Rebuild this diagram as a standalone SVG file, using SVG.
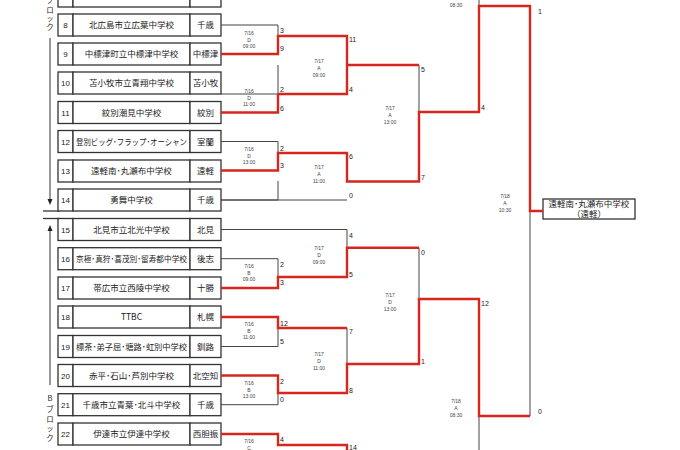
<svg xmlns="http://www.w3.org/2000/svg" width="680" height="450" viewBox="0 0 680 450">
<style>
.b{fill:#fff;stroke:#333;stroke-width:1.3}
.t{font-family:"Noto Sans CJK JP","Liberation Sans",sans-serif;font-size:8.5px;fill:#222;text-anchor:middle}
.n{font-family:"Liberation Sans",sans-serif;font-size:8px;fill:#222;text-anchor:middle}
.s{font-family:"Liberation Sans",sans-serif;font-size:7px;fill:#222}
.m{font-family:"Liberation Sans",sans-serif;font-size:5px;fill:#444;text-anchor:middle}
.k{fill:none;stroke:#444;stroke-width:1}
.r{fill:none;stroke:#d7261e;stroke-width:2.4}
.v{font-family:"Noto Sans CJK JP",sans-serif;font-size:7.5px;fill:#222;text-anchor:middle}
</style>
<rect width="680" height="450" fill="#fff"/>
<g id="side">
<text class="v" x="50" y="3">ブ</text><text class="v" x="50" y="13">ロ</text><text class="v" x="50" y="21">ッ</text><text class="v" x="50" y="30">ク</text>
<line x1="50" y1="38" x2="50" y2="200" stroke="#333"/><path d="M47.5,199 L52.5,199 L50,205 Z" fill="#222"/>
<line x1="43" y1="211" x2="60" y2="211" stroke="#333" stroke-width="1.3"/>
<line x1="43" y1="218.5" x2="60" y2="218.5" stroke="#333" stroke-width="1.3"/>
<line x1="50" y1="230" x2="50" y2="385" stroke="#333"/><path d="M47.5,231 L52.5,231 L50,225 Z" fill="#222"/>
<text class="v" x="50" y="401">B</text><text class="v" x="50" y="412">ブ</text><text class="v" x="50" y="422">ロ</text><text class="v" x="50" y="431">ッ</text><text class="v" x="50" y="441">ク</text>
</g>
<g id="teams">
<g id="r7"><rect class="b" x="58" y="-15" width="15" height="22"/><rect class="b" x="73" y="-15" width="117" height="22"/><rect class="b" x="190" y="-15" width="31" height="22"/></g>
<g id="r8"><rect class="b" x="58" y="14" width="15" height="22"/><rect class="b" x="73" y="14" width="117" height="22"/><rect class="b" x="190" y="14" width="31" height="22"/><text class="n" x="65.5" y="28">8</text><text class="t" x="131.5" y="28">北広島市立広葉中学校</text><text class="t" x="205.5" y="28">千歳</text></g>
<g id="r9"><rect class="b" x="58" y="43" width="15" height="22"/><rect class="b" x="73" y="43" width="117" height="22"/><rect class="b" x="190" y="43" width="31" height="22"/><text class="n" x="65.5" y="57">9</text><text class="t" x="131.5" y="57">中標津町立中標津中学校</text><text class="t" x="205.5" y="57">中標津</text></g>
<g id="r10"><rect class="b" x="58" y="72" width="15" height="22"/><rect class="b" x="73" y="72" width="117" height="22"/><rect class="b" x="190" y="72" width="31" height="22"/><text class="n" x="65.5" y="86">10</text><text class="t" x="131.5" y="86">苫小牧市立青翔中学校</text><text class="t" x="205.5" y="86">苫小牧</text></g>
<g id="r11"><rect class="b" x="58" y="101.5" width="15" height="22"/><rect class="b" x="73" y="101.5" width="117" height="22"/><rect class="b" x="190" y="101.5" width="31" height="22"/><text class="n" x="65.5" y="115.5">11</text><text class="t" x="131.5" y="115.5">紋別潮見中学校</text><text class="t" x="205.5" y="115.5">紋別</text></g>
<g id="r12"><rect class="b" x="58" y="130.5" width="15" height="22"/><rect class="b" x="73" y="130.5" width="117" height="22"/><rect class="b" x="190" y="130.5" width="31" height="22"/><text class="n" x="65.5" y="144.5">12</text><text class="t" x="131.5" y="144.5" textLength="111" lengthAdjust="spacingAndGlyphs">登別ビッグ･フラップ･オーシャン</text><text class="t" x="205.5" y="144.5">室蘭</text></g>
<g id="r13"><rect class="b" x="58" y="160" width="15" height="22"/><rect class="b" x="73" y="160" width="117" height="22"/><rect class="b" x="190" y="160" width="31" height="22"/><text class="n" x="65.5" y="174">13</text><text class="t" x="131.5" y="174">遠軽南･丸瀬布中学校</text><text class="t" x="205.5" y="174">遠軽</text></g>
<g id="r14"><rect class="b" x="58" y="189" width="15" height="22"/><rect class="b" x="73" y="189" width="117" height="22"/><rect class="b" x="190" y="189" width="31" height="22"/><text class="n" x="65.5" y="203">14</text><text class="t" x="131.5" y="203">勇舞中学校</text><text class="t" x="205.5" y="203">千歳</text></g>
<g id="r15"><rect class="b" x="58" y="218.5" width="15" height="22"/><rect class="b" x="73" y="218.5" width="117" height="22"/><rect class="b" x="190" y="218.5" width="31" height="22"/><text class="n" x="65.5" y="232.5">15</text><text class="t" x="131.5" y="232.5">北見市立北光中学校</text><text class="t" x="205.5" y="232.5">北見</text></g>
<g id="r16"><rect class="b" x="58" y="247.7" width="15" height="22"/><rect class="b" x="73" y="247.7" width="117" height="22"/><rect class="b" x="190" y="247.7" width="31" height="22"/><text class="n" x="65.5" y="261.7">16</text><text class="t" x="131.5" y="261.7" textLength="111" lengthAdjust="spacingAndGlyphs">京極･真狩･喜茂別･留寿都中学校</text><text class="t" x="205.5" y="261.7">後志</text></g>
<g id="r17"><rect class="b" x="58" y="277" width="15" height="22"/><rect class="b" x="73" y="277" width="117" height="22"/><rect class="b" x="190" y="277" width="31" height="22"/><text class="n" x="65.5" y="291">17</text><text class="t" x="131.5" y="291">帯広市立西陵中学校</text><text class="t" x="205.5" y="291">十勝</text></g>
<g id="r18"><rect class="b" x="58" y="306" width="15" height="22"/><rect class="b" x="73" y="306" width="117" height="22"/><rect class="b" x="190" y="306" width="31" height="22"/><text class="n" x="65.5" y="320">18</text><text class="t" x="131.5" y="320">TTBC</text><text class="t" x="205.5" y="320">札幌</text></g>
<g id="r19"><rect class="b" x="58" y="335.5" width="15" height="22"/><rect class="b" x="73" y="335.5" width="117" height="22"/><rect class="b" x="190" y="335.5" width="31" height="22"/><text class="n" x="65.5" y="349.5">19</text><text class="t" x="131.5" y="349.5" textLength="111" lengthAdjust="spacingAndGlyphs">標茶･弟子屈･塘路･虹別中学校</text><text class="t" x="205.5" y="349.5">釧路</text></g>
<g id="r20"><rect class="b" x="58" y="364.5" width="15" height="22"/><rect class="b" x="73" y="364.5" width="117" height="22"/><rect class="b" x="190" y="364.5" width="31" height="22"/><text class="n" x="65.5" y="378.5">20</text><text class="t" x="131.5" y="378.5">赤平･石山･芦別中学校</text><text class="t" x="205.5" y="378.5">北空知</text></g>
<g id="r21"><rect class="b" x="58" y="393.7" width="15" height="22"/><rect class="b" x="73" y="393.7" width="117" height="22"/><rect class="b" x="190" y="393.7" width="31" height="22"/><text class="n" x="65.5" y="407.7">21</text><text class="t" x="131.5" y="407.7">千歳市立青葉･北斗中学校</text><text class="t" x="205.5" y="407.7">千歳</text></g>
<g id="r22"><rect class="b" x="58" y="423" width="15" height="22"/><rect class="b" x="73" y="423" width="117" height="22"/><rect class="b" x="190" y="423" width="31" height="22"/><text class="n" x="65.5" y="437">22</text><text class="t" x="131.5" y="437">伊達市立伊達中学校</text><text class="t" x="205.5" y="437">西胆振</text></g>
</g>
<g id="winner"><rect class="b" x="543" y="199" width="92" height="20"/><text class="t" x="589" y="207" font-size="8">遠軽南･丸瀬布中学校</text><text class="t" x="589" y="216.5" font-size="8">（遠軽）</text></g>
<g id="connectors">
<path class="k" d="M221,25 H278 V36 M278,65 V94 H221 M221,141.5 H278 V153 M278,181 V200 H221 M221,200 H347 M347,65 V94 M419,65 V112 M479,6 V0 M530,211 V416"/>
<path class="k" d="M221,229.5 H347 V247.7 M221,258.7 H278 V277 M278,328 V346.5 H221 M221,375.5 H278 V393 M278,393 V404.7 H221 M347,328 V364 M419,247.7 V299 M479,416 V450"/>
<path class="r" d="M221,54 H278 V36 H347 V65 H419 M278,94 H347 V65 M221,112.5 H278 V94 M221,170.5 H278 V153 H347 V181.5 H419 V112 H479 V6 H530 V211 H543"/>
<path class="r" d="M221,288 H278 V277 H347 V247.7 H419 M221,317 H278 V328 H347 M221,375.5 H278 V393 H347 V364 H419 V299 H479 V416 H530 M221,434 H278 V445 H347 V450"/>
</g>
<g id="scores">
<text class="s" x="280" y="33">3</text><text class="s" x="280" y="51">9</text>
<text class="s" x="280" y="92">2</text><text class="s" x="280" y="111">6</text>
<text class="s" x="280" y="151">2</text><text class="s" x="280" y="168">3</text>
<text class="s" x="349" y="42">11</text><text class="s" x="349" y="92">4</text>
<text class="s" x="349" y="159">6</text><text class="s" x="349" y="198">0</text>
<text class="s" x="421" y="72">5</text><text class="s" x="421" y="180">7</text>
<text class="s" x="481" y="110">4</text>
<text class="s" x="538" y="14" font-size="8">1</text><text class="s" x="538" y="414" font-size="8">0</text>
<text class="s" x="349" y="238">4</text><text class="s" x="349" y="277">5</text>
<text class="s" x="280" y="267">2</text><text class="s" x="280" y="285">3</text>
<text class="s" x="280" y="326">12</text><text class="s" x="280" y="344">5</text>
<text class="s" x="280" y="384">2</text><text class="s" x="280" y="402">0</text>
<text class="s" x="280" y="442">4</text>
<text class="s" x="349" y="334">7</text><text class="s" x="349" y="393">8</text>
<text class="s" x="421" y="255">0</text><text class="s" x="421" y="364">1</text>
<text class="s" x="481" y="306">12</text>
<text class="s" x="349" y="450">14</text>
</g>
<g id="labels">
<text class="m" x="249" y="35">7/16</text><text class="m" x="249" y="41.5">D</text><text class="m" x="249" y="48">09:00</text>
<text class="m" x="249" y="93">7/16</text><text class="m" x="249" y="99.5">D</text><text class="m" x="249" y="106">11:00</text>
<text class="m" x="249" y="151">7/16</text><text class="m" x="249" y="157.5">D</text><text class="m" x="249" y="164">13:00</text>
<text class="m" x="319" y="63">7/17</text><text class="m" x="319" y="70">A</text><text class="m" x="319" y="77">09:00</text>
<text class="m" x="319" y="169">7/17</text><text class="m" x="319" y="176">A</text><text class="m" x="319" y="183">11:00</text>
<text class="m" x="390" y="110">7/17</text><text class="m" x="390" y="117">A</text><text class="m" x="390" y="124">13:00</text>
<text class="m" x="456" y="0">A</text><text class="m" x="456" y="7">08:30</text>
<text class="m" x="505" y="198">7/18</text><text class="m" x="505" y="205">A</text><text class="m" x="505" y="212">10:30</text>
<text class="m" x="319" y="250">7/17</text><text class="m" x="319" y="257">D</text><text class="m" x="319" y="264">09:00</text>
<text class="m" x="249" y="268">7/16</text><text class="m" x="249" y="274.5">B</text><text class="m" x="249" y="281">09:00</text>
<text class="m" x="249" y="326">7/16</text><text class="m" x="249" y="332.5">B</text><text class="m" x="249" y="339">11:00</text>
<text class="m" x="249" y="385">7/16</text><text class="m" x="249" y="391.5">B</text><text class="m" x="249" y="398">13:00</text>
<text class="m" x="249" y="443">7/16</text><text class="m" x="249" y="449.5">C</text>
<text class="m" x="319" y="356">7/17</text><text class="m" x="319" y="363">D</text><text class="m" x="319" y="370">11:00</text>
<text class="m" x="390" y="297">7/17</text><text class="m" x="390" y="304">D</text><text class="m" x="390" y="311">13:00</text>
<text class="m" x="456" y="403">7/18</text><text class="m" x="456" y="410">A</text><text class="m" x="456" y="417">08:30</text>
</g>
</svg>
